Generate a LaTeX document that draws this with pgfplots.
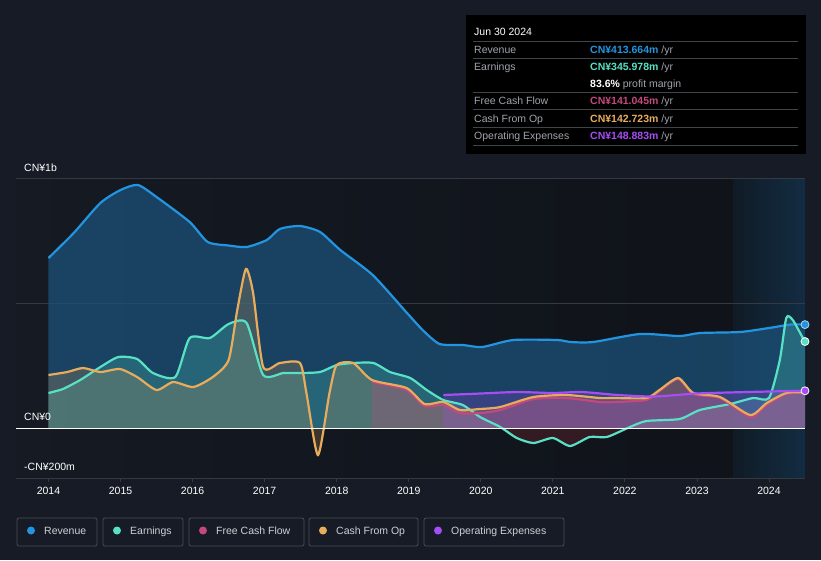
\documentclass[border=0pt]{standalone}
\usepackage{pgfplots}
\pgfplotsset{compat=1.18}
\usepackage{pgfplotstable}
\usepackage{fontspec}
\setmainfont{Liberation Sans}

\definecolor{bg}{RGB}{22,27,37}
\definecolor{plotl}{RGB}{21,26,35}
\definecolor{plotr}{RGB}{15,18,24}
\definecolor{fcl}{RGB}{16,27,38}
\definecolor{fcr}{RGB}{19,44,66}
\definecolor{gridc}{RGB}{52,57,66}
\definecolor{labc}{RGB}{160,164,171}
\definecolor{legtxt}{RGB}{205,208,214}
\definecolor{revc}{RGB}{35,148,223}
\definecolor{earnc}{RGB}{88,225,196}
\definecolor{negc}{RGB}{120,40,50}
\definecolor{fcfc}{RGB}{196,72,124}
\definecolor{cfoc}{RGB}{232,172,92}
\definecolor{opexc}{RGB}{166,77,245}

\newcommand\fs{\fontsize{10.5}{12}\selectfont}

% values in CN¥ millions, x in years
\pgfplotstableread{
x y
2014.00 680
2014.35 780
2014.72 900
2015.00 952
2015.24 972
2015.50 924
2015.96 824
2016.21 744
2016.50 730
2016.75 724
2017.03 752
2017.21 796
2017.49 808
2017.77 784
2018.05 712
2018.50 612
2018.97 462
2019.20 390
2019.43 336
2019.75 332
2020.02 324
2020.45 352
2021.06 352
2021.24 344
2021.56 344
2022.21 376
2022.76 368
2023.04 380
2023.60 384
2024.00 400
2024.30 414
2024.50 414
}\revenue

\pgfplotstableread{
x y
2014.00 140
2014.20 156
2014.44 192
2014.72 244
2014.97 284
2015.23 276
2015.45 220
2015.76 204
2015.96 360
2016.24 360
2016.50 416
2016.75 420
2016.98 212
2017.26 220
2017.49 220
2017.77 224
2018.00 252
2018.23 260
2018.51 260
2018.74 224
2019.02 200
2019.25 152
2019.48 112
2019.75 92
2019.99 44
2020.27 4
2020.50 -40
2020.73 -60
2021.00 -40
2021.24 -72
2021.51 -36
2021.75 -36
2022.07 4
2022.30 28
2022.76 36
2023.04 72
2023.46 96
2023.78 120
2024.00 120
2024.15 272
2024.24 440
2024.33 432
2024.47 360
2024.50 346
}\earnings

\pgfplotstableread{
x y
2014.00 212
2014.26 224
2014.48 240
2014.72 224
2014.99 236
2015.23 204
2015.50 152
2015.73 184
2016.01 164
2016.28 204
2016.50 272
2016.62 472
2016.74 636
2016.84 540
2016.98 244
2017.21 260
2017.49 260
2017.58 140
2017.74 -108
2017.90 140
2018.00 252
2018.23 260
2018.49 192
2018.97 160
2019.22 96
2019.48 104
2019.71 72
2019.99 76
2020.27 84
2020.73 124
2021.19 132
2021.65 120
2021.84 120
2022.30 120
2022.48 152
2022.74 200
2022.95 140
2023.32 124
2023.74 52
2023.97 100
2024.24 140
2024.50 143
}\cfo

\pgfplotstableread{
x y
2018.49 184
2018.97 152
2019.22 88
2019.48 92
2019.71 60
2019.99 60
2020.27 72
2020.73 116
2021.19 120
2021.65 104
2021.84 104
2022.30 112
2022.48 148
2022.74 196
2022.95 136
2023.32 120
2023.74 44
2023.97 92
2024.24 136
2024.50 141
}\fcf

\pgfplotstableread{
x y
2019.48 132
2020.00 138
2020.50 144
2021.00 140
2021.40 144
2021.90 132
2022.40 126
2023.00 138
2023.70 144
2024.50 149
}\opex

\begin{document}
\begin{tikzpicture}
\fill[bg] (0,0) rectangle (821pt,-560pt);
\shade[left color=plotl, right color=plotr] (16pt,-178pt) rectangle (805pt,-478pt);
\shade[left color=fcl, right color=fcr] (733pt,-178pt) rectangle (805pt,-478pt);
\draw[gridc, line width=0.8pt] (16pt,-178pt) -- (805pt,-178pt);
\draw[gridc, line width=0.8pt] (16pt,-303pt) -- (805pt,-303pt);

\begin{axis}[
    at={(16pt,-478pt)}, anchor=south west,
    scale only axis, width=789pt, height=300pt,
    xmin=2013.549, xmax=2024.5, ymin=-200, ymax=1000,
    axis x line=bottom, axis y line=none,
    axis line style={gridc, line width=0.8pt, -},
    xtick={2014,2015,2016,2017,2018,2019,2020,2021,2022,2023,2024},
    xticklabels={2014,2015,2016,2017,2018,2019,2020,2021,2022,2023,2024},
    tick align=outside, major tick length=4pt,
    xtick style={gridc, line width=0.8pt},
    xticklabel style={font=\fs, text=white, yshift=-2pt},
    ytick=\empty,
    clip=false,
]
% area fills
\addplot[draw=none, fill=revc!45!bg, fill opacity=0.75, smooth, tension=0.4] table {\revenue} \closedcycle;
\addplot[draw=none, fill=earnc, fill opacity=0.22, smooth, tension=0.4, y filter/.expression={max(y,0)}] table {\earnings} \closedcycle;
\addplot[draw=none, fill=negc, fill opacity=0.35, smooth, tension=0.4, y filter/.expression={min(y,0)}] table {\earnings} \closedcycle;
\addplot[draw=none, fill=cfoc, fill opacity=0.2, smooth, tension=0.4] table {\cfo} \closedcycle;
\addplot[draw=none, fill=fcfc, fill opacity=0.28, smooth, tension=0.4] table {\fcf} \closedcycle;
\addplot[draw=none, fill=opexc, fill opacity=0.22, smooth, tension=0.4] table {\opex} \closedcycle;
% lines
\addplot[revc, line width=2.2pt, smooth, tension=0.4] table {\revenue};
\addplot[earnc, line width=2.2pt, smooth, tension=0.4] table {\earnings};
\addplot[fcfc, line width=2.2pt, smooth, tension=0.4] table {\fcf};
\addplot[cfoc, line width=2.2pt, smooth, tension=0.4] table {\cfo};
\addplot[opexc, line width=2.2pt, smooth, tension=0.4] table {\opex};
% end markers
\addplot[only marks, mark=*, mark size=4pt, mark options={fill=revc, draw=revc!40!white, line width=0.8pt}] coordinates {(2024.5,413.664)};
\addplot[only marks, mark=*, mark size=4pt, mark options={fill=earnc, draw=white, line width=0.8pt}] coordinates {(2024.5,345.978)};
\addplot[only marks, mark=*, mark size=4pt, mark options={fill=opexc, draw=white, line width=0.8pt}] coordinates {(2024.5,148.883)};
\end{axis}

\draw[white, line width=1pt] (16pt,-428pt) -- (805pt,-428pt);

% y labels
\node[anchor=base west, text=white, font=\fs, inner sep=0] at (24pt,-171pt) {CN¥1b};
\node[anchor=base west, text=white, font=\fs, inner sep=0] at (24pt,-420pt) {CN¥0};
\node[anchor=base west, text=white, font=\fs, inner sep=0] at (24pt,-470pt) {-CN¥200m};

% tooltip
\fill[black] (466pt,-15pt) rectangle (806pt,-154pt);
\foreach \yy in {41,58.3,92.3,109.7,127,145}
  \draw[gridc!80!white!70!black, line width=0.7pt] (473pt,-\yy pt) -- (798pt,-\yy pt);
\node[anchor=base west, text=white, font=\fs, inner sep=0] at (474pt,-35pt) {Jun 30 2024};
\node[anchor=base west, text=labc, font=\fs, inner sep=0] at (474pt,-53pt) {Revenue};
\node[anchor=base west, text=labc, font=\fs, inner sep=0] at (474pt,-70.5pt) {Earnings};
\node[anchor=base west, text=labc, font=\fs, inner sep=0] at (474pt,-104pt) {Free Cash Flow};
\node[anchor=base west, text=labc, font=\fs, inner sep=0] at (474pt,-122pt) {Cash From Op};
\node[anchor=base west, text=labc, font=\fs, inner sep=0] at (474pt,-139pt) {Operating Expenses};
\node[anchor=base west, font=\fs, inner sep=0] at (590pt,-53pt) {\textcolor{revc}{\bfseries CN¥413.664m} \textcolor{labc}{/yr}};
\node[anchor=base west, font=\fs, inner sep=0] at (590pt,-70.5pt) {\textcolor{earnc}{\bfseries CN¥345.978m} \textcolor{labc}{/yr}};
\node[anchor=base west, font=\fs, inner sep=0] at (590pt,-87.5pt) {\textcolor{white}{\bfseries 83.6\%} \textcolor{labc}{profit margin}};
\node[anchor=base west, font=\fs, inner sep=0] at (590pt,-104pt) {\textcolor{fcfc}{\bfseries CN¥141.045m} \textcolor{labc}{/yr}};
\node[anchor=base west, font=\fs, inner sep=0] at (590pt,-122pt) {\textcolor{cfoc}{\bfseries CN¥142.723m} \textcolor{labc}{/yr}};
\node[anchor=base west, font=\fs, inner sep=0] at (590pt,-139pt) {\textcolor{opexc}{\bfseries CN¥148.883m} \textcolor{labc}{/yr}};

% legend
\foreach \xa/\xb/\col/\lab in {17/97/revc/Revenue, 103/183/earnc/Earnings, 189/304/fcfc/Free Cash Flow, 309/418/cfoc/Cash From Op, 424/564/opexc/Operating Expenses}{
  \draw[gridc!90!white, line width=0.8pt, rounded corners=2pt] (\xa pt,-518pt) rectangle (\xb pt,-546pt);
  \fill[\col] (\xa pt+14pt,-530.5pt) circle (4pt);
  \node[anchor=base west, text=legtxt, font=\fs, inner sep=0] at (\xa pt+27pt,-534.5pt) {\lab};
}
\end{tikzpicture}
\end{document}
